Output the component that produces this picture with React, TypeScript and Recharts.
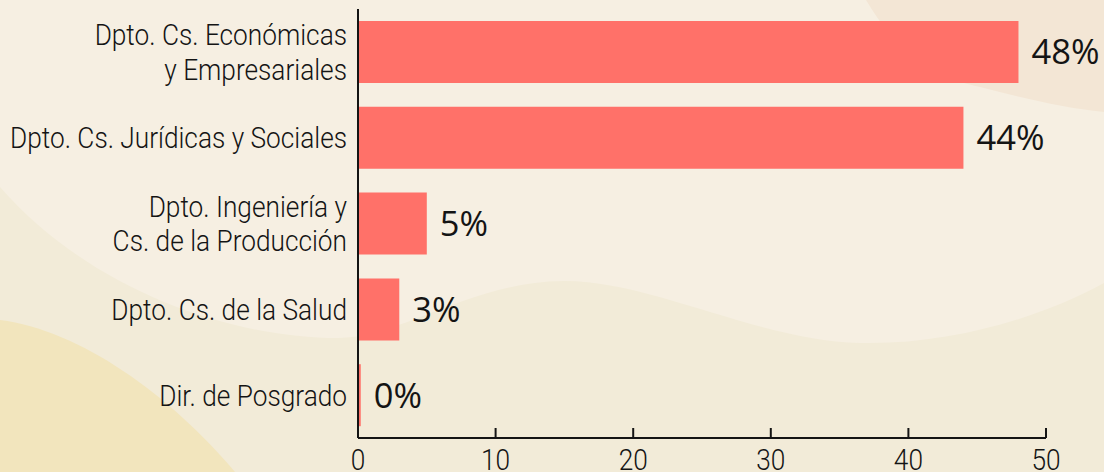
import React from 'react';
import { BarChart, Bar, XAxis, YAxis, LabelList } from 'recharts';

const categories = [
  'Dpto. Cs. Económicas\ny Empresariales',
  'Dpto. Cs. Jurídicas y Sociales',
  'Dpto. Ingeniería y\nCs. de la Producción',
  'Dpto. Cs. de la Salud',
  'Dir. de Posgrado',
];
const percentages = [48, 44, 5, 3, 0.2];
const percentLabels = ['48%', '44%', '5%', '3%', '0%'];
const xTicks = [0, 10, 20, 30, 40, 50];

const data = categories.map((name, i) => ({
  name,
  value: percentages[i],
  label: percentLabels[i],
}));

const TEXT = '#141414';
const BAR = '#FF7169';
const SX = 0.875;
const AXIS_FONT = "'Roboto Light', Roboto, 'Noto Sans', sans-serif";

function YTick(props: any) {
  const { x, y, payload } = props;
  const lines = String(payload.value).split('\n');
  const lh = 34.7;
  const start = -((lines.length - 1) * lh) / 2;
  return (
    <text
      transform={`translate(${x},${y}) scale(${SX},1)`}
      textAnchor="end"
      fontFamily={AXIS_FONT}
      fontWeight={300}
      fontSize={30}
      fill={TEXT}
    >
      {lines.map((l, i) => (
        <tspan key={i} x={0} y={start + i * lh} dy="0.355em">
          {l}
        </tspan>
      ))}
    </text>
  );
}

function XTick(props: any) {
  const { x, y, payload } = props;
  return (
    <g>
      <line x1={x} x2={x} y1={y} y2={y - 10} stroke={TEXT} strokeWidth={2} />
      <text
        transform={`translate(${x},${y + 31.5}) scale(${SX},1)`}
        textAnchor="middle"
        fontFamily={AXIS_FONT}
        fontWeight={300}
        fontSize={30}
        fill={TEXT}
      >
        {payload.value}
      </text>
    </g>
  );
}

function PctLabel(props: any) {
  const { x, y, width, height, value } = props;
  return (
    <text
      x={Number(x) + Number(width) + 13}
      y={Number(y) + Number(height) / 2}
      dy="0.36em"
      fontFamily="'Open Sans', 'Noto Sans', sans-serif"
      fontSize={34.5}
      fill={TEXT}
    >
      {value}
    </text>
  );
}

function Background() {
  return (
    <svg
      width={1104}
      height={472}
      style={{ position: 'absolute', left: 0, top: 0 }}
    >
      <rect x={0} y={0} width={1104} height={472} fill="#F2EBD8" />
      <path
        d="M0,0 H1104 V283 C1040,318 950,345 860,343 C760,341 650,280 563,281 C470,282 400,338 338,338 C230,338 90,290 0,187 Z"
        fill="#F6EFE2"
      />
      <path
        d="M866,0 C895,50 935,78 980,87 C1030,100 1065,108 1104,112 V0 Z"
        fill="#F3E6D5"
      />
      <path d="M0,320 C80,330 170,395 235,472 L0,472 Z" fill="#F2E5BD" />
    </svg>
  );
}

export default function App() {
  return (
    <div
      style={{
        position: 'absolute',
        left: 0,
        top: 0,
        width: 1104,
        height: 472,
        overflow: 'hidden',
      }}
    >
      <Background />
      <div style={{ position: 'absolute', left: 0, top: 0 }}>
        <BarChart
          layout="vertical"
          width={1104}
          height={472}
          data={data}
          margin={{ top: 9, right: 58, bottom: 0, left: 0 }}
        >
          <XAxis
            type="number"
            domain={[0, 50]}
            ticks={xTicks}
            interval={0}
            tickLine={false}
            tickSize={0}
            tickMargin={0}
            height={34}
            axisLine={{ stroke: TEXT, strokeWidth: 2 }}
            tick={(p: any) => <XTick {...p} />}
          />
          <YAxis
            type="category"
            dataKey="name"
            width={358}
            interval={0}
            tickLine={false}
            tickSize={0}
            tickMargin={11}
            axisLine={{ stroke: TEXT, strokeWidth: 2 }}
            tick={(p: any) => <YTick {...p} />}
          />
          <Bar dataKey="value" fill={BAR} barSize={62} isAnimationActive={false}>
            <LabelList dataKey="label" content={(p: any) => <PctLabel {...p} />} />
          </Bar>
        </BarChart>
      </div>
    </div>
  );
}
